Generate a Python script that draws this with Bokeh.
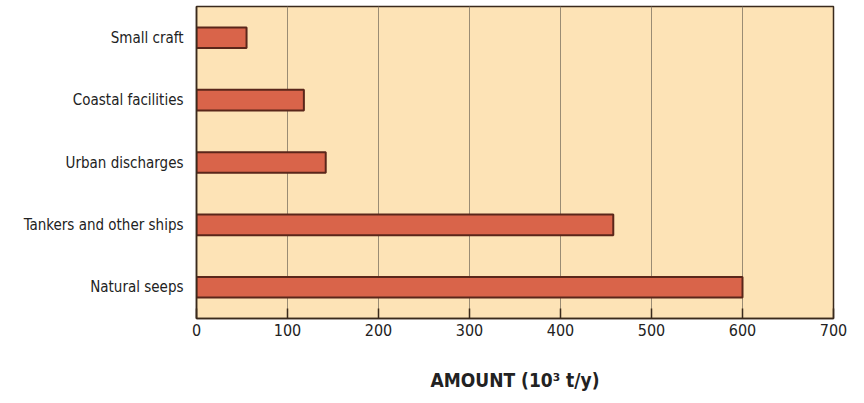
from bokeh.plotting import figure
from bokeh.models import Range1d, FactorRange, FixedTicker
from bokeh.embed import file_html
from bokeh.resources import INLINE

categories = ["Small craft", "Coastal facilities", "Urban discharges",
              "Tankers and other ships", "Natural seeps"]
amounts = [55, 118, 142, 458, 600]
x_ticks = [0, 100, 200, 300, 400, 500, 600, 700]

FONT = "DejaVu Sans Condensed, DejaVu Sans"

p = figure(width=856, height=395, output_backend="svg", toolbar_location=None,
           x_range=Range1d(0, 700), y_range=FactorRange(*reversed(categories)),
           min_border_left=196, min_border_right=23, min_border_top=6,
           min_border_bottom=77)

p.hbar(y=categories, right=amounts, left=0, height=0.33,
       fill_color="#D9644A", line_color="#5A261A", line_width=2)

p.background_fill_color = "#FDE3B6"
p.border_fill_color = "white"
p.outline_line_color = "#3A2A1C"
p.outline_line_width = 1.5

p.xgrid.grid_line_color = "#9A8C74"
p.xgrid.grid_line_width = 1
p.ygrid.grid_line_color = None

p.xaxis.ticker = FixedTicker(ticks=x_ticks)
p.xaxis.major_tick_in = 10
p.xaxis.major_tick_out = 0
p.xaxis.minor_tick_line_color = None
p.xaxis.axis_line_color = "#3A2A1C"
p.xaxis.axis_line_width = 1.5
p.xaxis.major_tick_line_color = "#3A2A1C"
p.xaxis.major_tick_line_width = 1.5
p.xaxis.major_label_text_font = FONT
p.xaxis.major_label_text_font_size = "16px"
p.xaxis.major_label_text_color = "#222222"
p.xaxis.major_label_standoff = 5
p.xaxis.axis_label = "AMOUNT (10\u00b3 t/y)"
p.xaxis.axis_label_text_font = FONT
p.xaxis.axis_label_text_font_style = "bold"
p.xaxis.axis_label_text_font_size = "19px"
p.xaxis.axis_label_text_color = "#222222"
p.xaxis.axis_label_standoff = 30

p.yaxis.major_tick_line_color = None
p.yaxis.minor_tick_line_color = None
p.yaxis.axis_line_color = "#3A2A1C"
p.yaxis.axis_line_width = 1.5
p.yaxis.major_label_text_font = FONT
p.yaxis.major_label_text_font_size = "15px"
p.yaxis.major_label_text_color = "#222222"
p.yaxis.major_label_standoff = 7

open("out.html", "w").write(file_html(p, INLINE))
